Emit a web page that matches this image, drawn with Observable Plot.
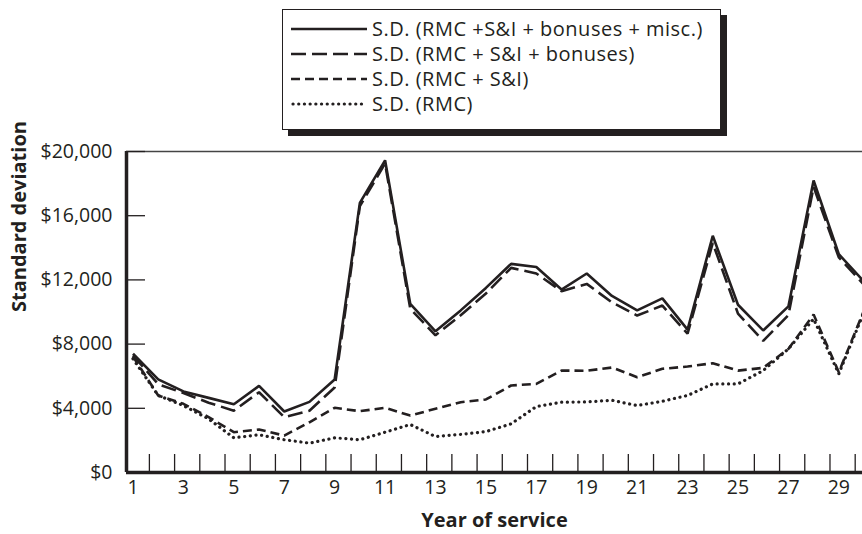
<!DOCTYPE html>
<html>
<head>
<meta charset="utf-8">
<script src="https://cdn.jsdelivr.net/npm/d3@7"></script>
<script src="https://cdn.jsdelivr.net/npm/@observablehq/plot@0.6"></script>
<style>
  html, body { margin: 0; padding: 0; background: #fff; }
  #wrap { position: relative; width: 862px; height: 534px; font-family: "Open Sans", sans-serif; color: #231f20; }
  #legendArea { position: relative; width: 862px; height: 140px; }
  #legend { position: absolute; left: 282px; top: 9px; width: 439px; height: 121px; box-sizing: border-box;
            border: 1.5px solid #231f20; box-shadow: 6px 6px 0 #231f20; background: #fff; }
  .row { position: absolute; left: 8px; height: 22px; line-height: 22px; display: flex; align-items: center; font-size: 20px; letter-spacing: 0.5px; white-space: nowrap; }
  .row span { line-height: 22px; display: inline-block; height: 22px; }
  .row svg { margin-right: 5px; }
</style>
</head>
<body>
<div id="wrap">
  <div id="legendArea"><div id="legend"></div></div>
  <div id="chart"></div>
</div>
<script>
const years   = [1,2,3,4,5,6,7,8,9,10,11,12,13,14,15,16,17,18,19,20,21,22,23,24,25,26,27,28,29,30];
const misc    = [7400,5800,5050,4650,4250,5400,3800,4400,5800,16800,19450,10500,8800,10100,11500,13000,12800,11400,12400,11000,10100,10850,8900,14750,10450,8850,10350,18200,13600,11900];
const bonuses = [7300,5500,4950,4350,3850,5000,3450,3850,5300,16600,19250,10200,8550,9800,11150,12750,12400,11300,11750,10600,9780,10400,8650,14300,9900,8200,9800,17800,13400,11700];
const si      = [7230,4800,4280,3450,2510,2680,2300,3130,4030,3820,4030,3550,3970,4380,4550,5420,5520,6350,6340,6540,5940,6460,6600,6810,6350,6520,7700,9840,6250,10100];
const rmc     = [7080,4800,4170,3340,2160,2350,2040,1830,2160,2040,2510,2990,2240,2370,2550,3030,4110,4380,4400,4500,4170,4440,4800,5520,5520,6350,7700,9570,6150,10000];

const seriesNames = ["S.D. (RMC +S&I + bonuses + misc.)", "S.D. (RMC + S&I + bonuses)", "S.D. (RMC + S&I)", "S.D. (RMC)"];
const yTicks = [0, 4000, 8000, 12000, 16000, 20000];
const xLabelTicks = [1,3,5,7,9,11,13,15,17,19,21,23,25,27,29];
const yTitle = "Standard deviation";
const xTitle = "Year of service";

const ink = "#231f20";
const styles = [
  {strokeWidth: 2.6, strokeDasharray: null, strokeLinecap: "butt"},
  {strokeWidth: 2.6, strokeDasharray: "15,6", strokeLinecap: "butt"},
  {strokeWidth: 2.6, strokeDasharray: "9,5", strokeLinecap: "butt"},
  {strokeWidth: 3.2, strokeDasharray: "0.1,5.6", strokeLinecap: "round"}
];
const keys = ["misc", "bonuses", "si", "rmc"];

const table = years.map((yr, i) => ({year: yr, misc: misc[i], bonuses: bonuses[i], si: si[i], rmc: rmc[i]}));
const boundaryTicks = years.slice(0, 29).map(y => y + 0.65);
const xDomain = [0.742, 29.94];

// legend
const legend = document.getElementById("legend");
seriesNames.forEach((name, i) => {
  const row = document.createElement("div");
  row.className = "row";
  row.style.top = (8 + i * 25) + "px";
  const s = styles[i];
  row.innerHTML = `<svg width="76" height="8"><line x1="${s.strokeLinecap === "round" ? 2 : 0}" y1="4" x2="76" y2="4" stroke="${ink}" stroke-width="${s.strokeWidth}" ${s.strokeDasharray ? `stroke-dasharray="${s.strokeDasharray}"` : ""} stroke-linecap="${s.strokeLinecap}"/></svg><span></span>`;
  row.querySelector("span").textContent = name;
  legend.appendChild(row);
});

const lineMarks = [3, 2, 1, 0].map(i => Plot.line(table, {
  x: "year", y: keys[i], stroke: ink, clip: true,
  strokeWidth: styles[i].strokeWidth,
  strokeDasharray: styles[i].strokeDasharray,
  strokeLinecap: styles[i].strokeLinecap,
  strokeLinejoin: "miter"
}));

const chart = Plot.plot({
  width: 862,
  height: 394,
  marginTop: 11,
  marginBottom: 62,
  marginLeft: 126,
  marginRight: 0,
  x: {domain: xDomain},
  y: {domain: [0, 20000]},
  style: {fontFamily: "Open Sans, sans-serif", fontSize: "19.5px", color: ink, background: "#fff", overflow: "visible"},
  marks: [
    Plot.ruleY([20000], {stroke: "#444", strokeWidth: 1.3}),
    Plot.axisY(yTicks, {tickSize: 19, dx: 19, tickFormat: () => "", label: null, stroke: ink, strokeWidth: 1.3}),
    Plot.axisY(yTicks, {tickSize: 0, tickPadding: 14, tickFormat: d3.format("$,"), label: null, fill: ink}),
    Plot.axisX(boundaryTicks, {tickSize: 18, dy: -18, tickFormat: () => "", label: null, stroke: ink, strokeWidth: 1.3}),
    Plot.axisX(xLabelTicks, {tickSize: 0, tickPadding: 8, tickFormat: d => String(d), label: null, fill: ink}),
    ...lineMarks,
    Plot.ruleX([xDomain[0]], {stroke: ink, strokeWidth: 3.5}),
    Plot.ruleY([0], {stroke: ink, strokeWidth: 3.5}),
    Plot.text([yTitle], {frameAnchor: "left", dx: -107, rotate: -90, fontWeight: "bold", fontSize: 20, fill: ink}),
    Plot.text([xTitle], {frameAnchor: "bottom", dy: 54, fontWeight: "bold", fontSize: 20, fill: ink})
  ]
});
document.getElementById("chart").appendChild(chart);
</script>
</body>
</html>
